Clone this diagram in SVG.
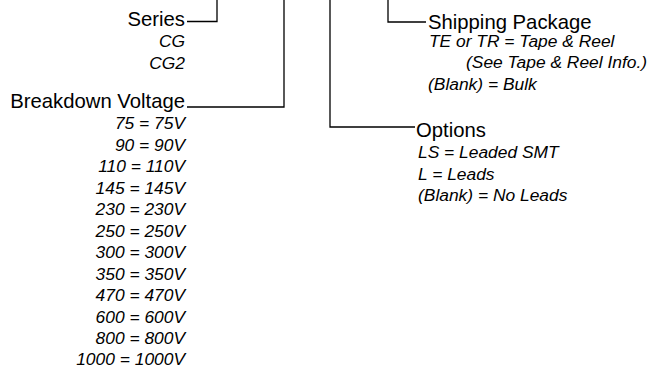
<svg xmlns="http://www.w3.org/2000/svg" width="652" height="369" viewBox="0 0 652 369">
<style>
.h{font-family:"Liberation Sans",Arial,sans-serif;font-size:20.3px;fill:#000}
.i{font-family:"Liberation Sans",Arial,sans-serif;font-size:17.4px;font-style:italic;fill:#000}
.r{text-anchor:end}
.c{fill:none;stroke:#000;stroke-width:1.3}
</style>
<rect width="652" height="369" fill="#fff"/>
<g id="connectors">
<polyline class="c" points="187,21.5 217,21.5 217,0"/>
<polyline class="c" points="187,107 284,107 284,0"/>
<polyline class="c" points="415,127 330,127 330,0"/>
<polyline class="c" points="426,22 388,22 388,0"/>
</g>
<g id="series">
<text class="h r" x="185" y="26">Series</text>
<text class="i r" x="185" y="47">CG</text>
<text class="i r" x="185" y="69">CG2</text>
</g>
<g id="breakdown-voltage">
<text class="h r" x="185" y="108">Breakdown Voltage</text>
<text class="i r" x="185" y="129.4">75 = 75V</text>
<text class="i r" x="185" y="150.9">90 = 90V</text>
<text class="i r" x="185" y="172.3">110 = 110V</text>
<text class="i r" x="185" y="193.8">145 = 145V</text>
<text class="i r" x="185" y="215.2">230 = 230V</text>
<text class="i r" x="185" y="236.7">250 = 250V</text>
<text class="i r" x="185" y="258.1">300 = 300V</text>
<text class="i r" x="185" y="279.6">350 = 350V</text>
<text class="i r" x="185" y="301">470 = 470V</text>
<text class="i r" x="185" y="322.5">600 = 600V</text>
<text class="i r" x="185" y="343.9">800 = 800V</text>
<text class="i r" x="185" y="365.4">1000 = 1000V</text>
</g>
<g id="shipping-package">
<text class="h" x="428" y="28.5">Shipping Package</text>
<text class="i" x="429" y="46.5">TE or TR = Tape &amp; Reel</text>
<text class="i" x="466" y="68">(See Tape &amp; Reel Info.)</text>
<text class="i" x="428" y="90">(Blank) = Bulk</text>
</g>
<g id="options">
<text class="h" x="416" y="137">Options</text>
<text class="i" x="418" y="158">LS = Leaded SMT</text>
<text class="i" x="418" y="180">L = Leads</text>
<text class="i" x="418" y="201">(Blank) = No Leads</text>
</g>
</svg>
